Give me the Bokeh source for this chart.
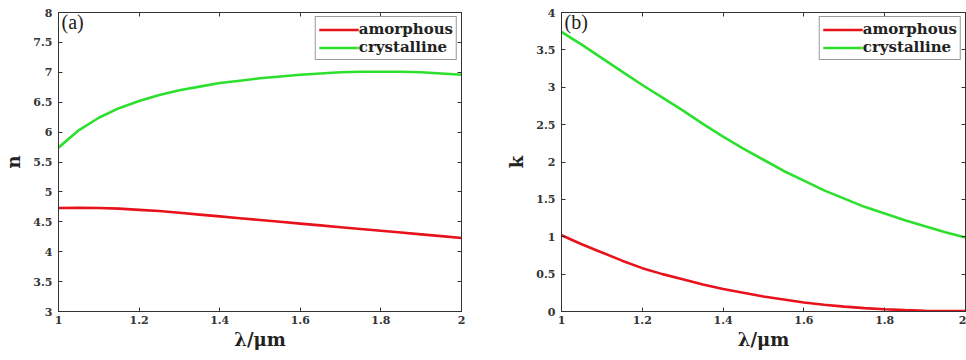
from bokeh.plotting import figure
from bokeh.models import Legend, LegendItem, Label, FixedTicker, LinearAxis, Range1d
from bokeh.layouts import row
from bokeh.embed import file_html
from bokeh.resources import INLINE

# ---- data ----
wavelength = [1.00, 1.05, 1.10, 1.15, 1.20, 1.25, 1.30, 1.35, 1.40, 1.45, 1.50,
              1.55, 1.60, 1.65, 1.70, 1.75, 1.80, 1.85, 1.90, 1.95, 2.00]
n_amorphous = [4.73, 4.735, 4.73, 4.72, 4.70, 4.68, 4.65, 4.62, 4.59, 4.56, 4.53,
               4.50, 4.47, 4.44, 4.41, 4.38, 4.35, 4.32, 4.29, 4.26, 4.23]
n_crystalline = [5.74, 6.03, 6.24, 6.40, 6.52, 6.62, 6.70, 6.76, 6.82, 6.86, 6.90,
                 6.93, 6.96, 6.98, 7.00, 7.01, 7.01, 7.01, 7.00, 6.98, 6.96]
k_amorphous = [1.02, 0.90, 0.79, 0.68, 0.58, 0.50, 0.43, 0.36, 0.30, 0.25, 0.20,
               0.16, 0.12, 0.09, 0.065, 0.045, 0.03, 0.018, 0.01, 0.006, 0.005]
k_crystalline = [3.74, 3.57, 3.39, 3.21, 3.03, 2.86, 2.69, 2.51, 2.34, 2.18, 2.03,
                 1.88, 1.75, 1.62, 1.51, 1.40, 1.31, 1.22, 1.14, 1.06, 0.99]

x_ticks = [1.0, 1.2, 1.4, 1.6, 1.8, 2.0]
x_tick_labels = ["1", "1.2", "1.4", "1.6", "1.8", "2"]
n_ticks = [3, 3.5, 4, 4.5, 5, 5.5, 6, 6.5, 7, 7.5, 8]
n_tick_labels = ["3", "3.5", "4", "4.5", "5", "5.5", "6", "6.5", "7", "7.5", "8"]
k_ticks = [0, 0.5, 1, 1.5, 2, 2.5, 3, 3.5, 4]
k_tick_labels = ["0", "0.5", "1", "1.5", "2", "2.5", "3", "3.5", "4"]
series_names = ["amorphous", "crystalline"]
x_label = "λ/μm"

RED = "#e8121c"
GREEN = "#2ee02e"
SERIF = "Liberation Serif"
SERIF_BOLD = "DejaVu Serif"


def style_axis(ax, ticks, labels, show_labels=True):
    ax.ticker = FixedTicker(ticks=ticks)
    ax.major_label_overrides = {t: l for t, l in zip(ticks, labels)}
    ax.major_tick_in = 4
    ax.major_tick_out = 0
    ax.minor_tick_line_color = None
    ax.axis_line_color = "#333333"
    ax.major_tick_line_color = "#333333"
    ax.major_label_text_font = SERIF_BOLD
    ax.major_label_text_font_style = "bold"
    ax.major_label_text_font_size = "11px"
    ax.major_label_text_color = "#333333"
    ax.axis_label_text_font = SERIF_BOLD
    ax.axis_label_text_font_style = "bold"
    ax.axis_label_text_font_size = "18px"
    ax.axis_label_text_color = "#222222"
    if not show_labels:
        ax.major_label_text_font_size = "0px"
        ax.major_label_text_color = None
        ax.major_label_standoff = 0


def make_panel(ys, yticks, ylabels, yr, ylabel, tag, width, bl, br):
    p = figure(width=width, height=360, output_backend="svg", toolbar_location=None,
               x_range=Range1d(1, 2), y_range=Range1d(*yr),
               min_border_left=bl, min_border_right=br, min_border_top=12,
               min_border_bottom=49)
    p.xgrid.visible = False
    p.ygrid.visible = False
    p.outline_line_color = "#333333"
    p.background_fill_color = "white"
    p.border_fill_color = "white"

    r1 = p.line(wavelength, ys[0], line_color=RED, line_width=2.6)
    r2 = p.line(wavelength, ys[1], line_color=GREEN, line_width=2.6)

    style_axis(p.xaxis[0], x_ticks, x_tick_labels)
    p.xaxis[0].axis_label = x_label
    p.xaxis[0].axis_label_standoff = 2
    p.xaxis[0].major_label_standoff = 4
    style_axis(p.yaxis[0], yticks, ylabels)
    p.yaxis[0].axis_label = ylabel
    p.yaxis[0].axis_label_standoff = 6
    p.yaxis[0].major_label_standoff = 6

    top = LinearAxis()
    style_axis(top, x_ticks, x_tick_labels, show_labels=False)
    p.add_layout(top, "above")
    right = LinearAxis()
    style_axis(right, yticks, ylabels, show_labels=False)
    p.add_layout(right, "right")

    legend = Legend(items=[LegendItem(label=series_names[0], renderers=[r1]),
                           LegendItem(label=series_names[1], renderers=[r2])],
                    location="top_right")
    legend.label_text_font = SERIF_BOLD
    legend.label_text_font_style = "bold"
    legend.label_text_font_size = "15px"
    legend.label_text_color = "#222222"
    legend.label_height = 15
    legend.glyph_height = 15
    legend.glyph_width = 40
    legend.label_standoff = 0
    legend.spacing = 0
    legend.padding = 3
    legend.margin = 4
    legend.border_line_color = "#333333"
    legend.border_line_width = 1
    p.add_layout(legend)

    lab = Label(x=1.0, y=yr[1], text=tag, x_offset=3, y_offset=2,
                text_baseline="top", text_font=SERIF, text_font_size="20px",
                text_color="#222222")
    p.add_layout(lab)
    return p


p1 = make_panel([n_amorphous, n_crystalline], n_ticks, n_tick_labels, (3, 8), "n", "(a)", 501, 57, 40)
p2 = make_panel([k_amorphous, k_crystalline], k_ticks, k_tick_labels, (0, 4), "k", "(b)", 465, 60, 1)

layout = row(p1, p2)
open("out.html", "w").write(file_html(layout, INLINE))
